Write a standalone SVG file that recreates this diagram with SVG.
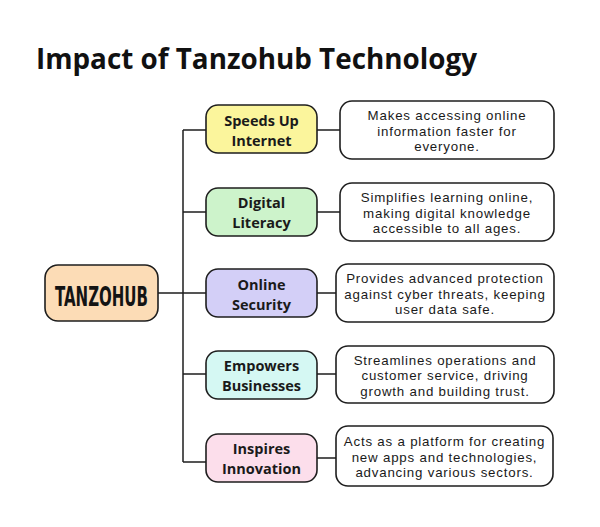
<svg xmlns="http://www.w3.org/2000/svg" width="600" height="527" viewBox="0 0 600 527">
<style>
.box{stroke:#1e1e1e;stroke-width:1.6}
.mid{font-family:"Open Sans","Liberation Sans",sans-serif;font-weight:700;font-size:14.5px;fill:#1a1a1a;text-anchor:middle}
.desc{font-family:"Liberation Sans",Arial,sans-serif;font-size:13.3px;letter-spacing:0.8px;fill:#1a1a1a;text-anchor:middle}
.con{stroke:#1e1e1e;stroke-width:1.5;fill:none}
</style>
<rect width="600" height="527" fill="#ffffff"/>
<text x="36" y="69" font-family="'Open Sans','Liberation Sans',sans-serif" font-weight="700" font-size="28" fill="#111" textLength="441" lengthAdjust="spacingAndGlyphs">Impact of Tanzohub Technology</text>
<g id="connectors">
<path class="con" d="M158 293H183M183 130V462M183 130H206M183 212H206M183 293H206M183 374H206M183 462H206"/>
<path class="con" d="M317 130H340M317 212H340M317 293H336M317 374H336M317 458H336"/>
</g>
<g id="tanzohub">
<rect class="box" x="45" y="265" width="113" height="56" rx="13" fill="#fcdcb6"/>
<text x="101.5" y="306" font-family="'DejaVu Sans Condensed','DejaVu Sans',sans-serif" font-weight="700" font-size="26" fill="#141414" text-anchor="middle" textLength="93" lengthAdjust="spacingAndGlyphs">TANZOHUB</text>
</g>
<g id="speeds">
<rect class="box" x="206" y="105" width="111" height="48" rx="12" fill="#fbf59c"/>
<text class="mid" x="261.5" y="126">Speeds Up</text>
<text class="mid" x="261.5" y="146">Internet</text>
</g>
<g id="digital">
<rect class="box" x="206" y="188" width="111" height="48" rx="12" fill="#cdf3cb"/>
<text class="mid" x="261.5" y="208">Digital</text>
<text class="mid" x="261.5" y="228">Literacy</text>
</g>
<g id="online">
<rect class="box" x="206" y="269" width="111" height="48" rx="12" fill="#d3cff7"/>
<text class="mid" x="261.5" y="290">Online</text>
<text class="mid" x="261.5" y="310">Security</text>
</g>
<g id="empowers">
<rect class="box" x="206" y="351" width="111" height="48" rx="12" fill="#d5f8f3"/>
<text class="mid" x="261.5" y="371">Empowers</text>
<text class="mid" x="261.5" y="391">Businesses</text>
</g>
<g id="inspires">
<rect class="box" x="206" y="434" width="111" height="48" rx="12" fill="#fcdeeb"/>
<text class="mid" x="261.5" y="454">Inspires</text>
<text class="mid" x="261.5" y="474">Innovation</text>
</g>
<g id="d1">
<rect class="box" x="340" y="101" width="214" height="58" rx="12" fill="#fff"/>
<text class="desc" x="447" y="120">Makes accessing online</text>
<text class="desc" x="447" y="135.5">information faster for</text>
<text class="desc" x="447" y="151">everyone.</text>
</g>
<g id="d2">
<rect class="box" x="340" y="183" width="214" height="58" rx="12" fill="#fff"/>
<text class="desc" x="447" y="202">Simplifies learning online,</text>
<text class="desc" x="447" y="217.5">making digital knowledge</text>
<text class="desc" x="447" y="233">accessible to all ages.</text>
</g>
<g id="d3">
<rect class="box" x="336" y="264" width="218" height="58" rx="12" fill="#fff"/>
<text class="desc" x="445" y="283">Provides advanced protection</text>
<text class="desc" x="445" y="298.5">against cyber threats, keeping</text>
<text class="desc" x="445" y="314">user data safe.</text>
</g>
<g id="d4">
<rect class="box" x="336" y="346" width="218" height="57" rx="12" fill="#fff"/>
<text class="desc" x="445" y="364.5">Streamlines operations and</text>
<text class="desc" x="445" y="380">customer service, driving</text>
<text class="desc" x="445" y="395.5">growth and building trust.</text>
</g>
<g id="d5">
<rect class="box" x="336" y="426" width="217" height="60" rx="12" fill="#fff"/>
<text class="desc" x="444.5" y="446">Acts as a platform for creating</text>
<text class="desc" x="444.5" y="461.5">new apps and technologies,</text>
<text class="desc" x="444.5" y="477">advancing various sectors.</text>
</g>
</svg>
